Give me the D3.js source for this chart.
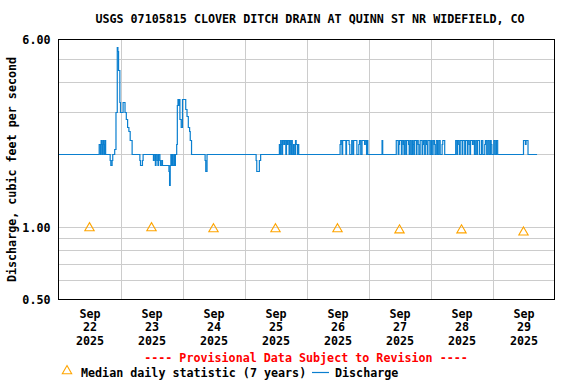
<!DOCTYPE html>
<html>
<head>
<meta charset="utf-8">
<script src="https://cdn.jsdelivr.net/npm/d3@7"></script>
<style>
	body { margin: 0; background: #fff; }
	svg text { font-family: "DejaVu Sans Mono", "Liberation Mono", monospace; font-weight: bold; font-size: 11.7px; fill: #000; }
</style>
</head>
<body>
<svg id="chart" width="576" height="384"></svg>
<script>
var title = "USGS 07105815 CLOVER DITCH DRAIN AT QUINN ST NR WIDEFIELD, CO";
var yTitle = "Discharge, cubic feet per second";
var dayLabels = ["22", "23", "24", "25", "26", "27", "28", "29"];
var yLabelValues = [0.5, 1, 6];
var yGridValues = [0.6, 0.7, 0.8, 0.9, 1, 2, 3, 4, 5];

// median daily statistic, one per day (plotted at noon)
var medianValues = [0.99, 0.99, 0.98, 0.98, 0.98, 0.97, 0.97, 0.95];

// discharge as [hours since Sep 22 00:00, cfs], value holds until next entry
var discharge = [
	[0, 2.0],
	[15.75, 2.2], [16.25, 2.0], [16.5, 2.3], [16.75, 2.2], [17.0, 2.0], [17.25, 2.3], [17.5, 2.2], [17.75, 2.0], [18.0, 2.3], [18.25, 2.0],
	[20.0, 1.9], [20.25, 1.8], [20.75, 1.9], [21.0, 2.0],
	[21.75, 2.1], [22.25, 3.0], [22.75, 5.6], [23.0, 5.4], [23.25, 4.5], [23.75, 3.3], [24.0, 3.0],
	[25.0, 3.3], [25.75, 3.0], [26.25, 2.8], [26.75, 2.6], [27.25, 2.5], [27.75, 2.3], [28.5, 2.0],
	[31.5, 1.9], [31.75, 1.8], [32.5, 1.9], [32.75, 2.0],
	[36.75, 1.9], [37.0, 2.0], [37.5, 1.8], [37.75, 2.0], [38.25, 1.9], [38.5, 1.8], [38.75, 2.0],
	[39.25, 1.9], [39.5, 1.8], [40.0, 1.9], [40.25, 1.8], [42.75, 1.7], [43.0, 1.5], [43.25, 1.8], [43.5, 2.0], [43.75, 1.8],
	[44.0, 2.0], [44.25, 1.8], [44.75, 2.0], [45.0, 1.8], [45.25, 2.0], [45.75, 2.2],
	[46.0, 3.2], [46.25, 3.4], [46.5, 3.2], [46.75, 3.4], [47.0, 2.8], [47.5, 2.6], [48.0, 3.4],
	[49.25, 3.1], [49.75, 2.9], [50.25, 2.6], [50.75, 2.5], [51.0, 2.3], [51.5, 2.0],
	[56.75, 1.9], [57.0, 1.7], [57.5, 2.0],
	[76.5, 1.9], [76.75, 1.7], [77.75, 1.9], [78.25, 2.0],
	[85.5, 2.2], [85.75, 2.0], [86.0, 2.3], [86.25, 2.2], [86.5, 2.0], [86.75, 2.3], [87.25, 2.2], [87.5, 2.3], [88.0, 2.0],
	[88.25, 2.3], [88.5, 2.2], [88.75, 2.3], [89.25, 2.0], [89.5, 2.3], [89.75, 2.2], [90.0, 2.0], [90.25, 2.3], [90.5, 2.0],
	[91.0, 2.2], [91.25, 2.0], [91.75, 2.3], [92.0, 2.2], [92.5, 2.0], [92.75, 2.2], [93.0, 2.0],
	[109.0, 2.2], [109.25, 2.3], [109.75, 2.0], [110.0, 2.3], [111.25, 2.0], [111.5, 2.3], [112.5, 2.2], [112.75, 2.0],
	[113.5, 2.3], [114.0, 2.0], [114.25, 2.3], [115.5, 2.0], [116.25, 2.2], [116.5, 2.3], [117.0, 2.0], [117.5, 2.3],
	[118.5, 2.2], [118.75, 2.3], [119.25, 2.0], [119.5, 2.3], [119.75, 2.0],
	[125.25, 2.3], [125.5, 2.0],
	[130.75, 2.3], [131.5, 2.0], [131.75, 2.2], [132.0, 2.3], [132.75, 2.0], [133.0, 2.3], [133.5, 2.2], [133.75, 2.0],
	[134.0, 2.3], [134.5, 2.0], [134.75, 2.3], [135.5, 2.2], [135.75, 2.0], [136.0, 2.3], [136.5, 2.0], [137.0, 2.3],
	[137.25, 2.2], [137.5, 2.0], [137.75, 2.3], [138.5, 2.0], [138.75, 2.3], [139.25, 2.2], [139.5, 2.0], [140.0, 2.3],
	[140.75, 2.0], [141.0, 2.2], [141.25, 2.3], [141.75, 2.0], [142.0, 2.3], [142.5, 2.2], [142.75, 2.0], [143.0, 2.3],
	[143.75, 2.0], [144.25, 2.3], [144.5, 2.0], [145.0, 2.3], [145.5, 2.2], [145.75, 2.0], [146.25, 2.3], [146.75, 2.0],
	[147.25, 2.3], [147.75, 2.0], [148.5, 2.2], [148.75, 2.3], [149.5, 2.0],
	[153.75, 2.3], [154.25, 2.0], [154.5, 2.3], [155.0, 2.2], [155.25, 2.0], [155.5, 2.3], [156.25, 2.0], [156.5, 2.3],
	[157.25, 2.0], [157.5, 2.3], [158.25, 2.0], [158.5, 2.3], [159.0, 2.2], [159.25, 2.0], [159.5, 2.3], [160.25, 2.2],
	[160.5, 2.3], [161.0, 2.0], [161.5, 2.3], [162.0, 2.0], [162.25, 2.3], [163.0, 2.0], [163.75, 2.3], [164.25, 2.0],
	[165.0, 2.2], [165.25, 2.3], [165.75, 2.0], [166.25, 2.3], [166.75, 2.0], [167.25, 2.3], [167.5, 2.2], [167.75, 2.0],
	[168.5, 2.3], [169.0, 2.0], [169.5, 2.3], [170.0, 2.0],
	[180.0, 2.3], [180.75, 2.2], [181.0, 2.3], [181.75, 2.0],
	[185.25, 2.0]
];

var start = new Date(2025, 8, 22);
function atHour(h) {
	return new Date(start.getTime() + h * 3600 * 1000);
}

var plot = { left: 58.5, right: 554.5, top: 39.5, bottom: 299.5 };
var svg = d3.select("#chart");

var x = d3.scaleTime()
	.domain([start, atHour(8 * 24)])
	.range([plot.left, plot.right]);
var y = d3.scaleLog()
	.domain([0.5, 6])
	.range([plot.bottom, plot.top]);

// gridlines
var grid = svg.append("g").attr("shape-rendering", "crispEdges");
grid.selectAll("line.v")
	.data(d3.range(1, 8))
	.enter().append("line")
	.attr("x1", function(d) { return Math.round(x(atHour(d * 24))) + 0.5; })
	.attr("x2", function(d) { return Math.round(x(atHour(d * 24))) + 0.5; })
	.attr("y1", plot.top).attr("y2", plot.bottom)
	.attr("stroke", "#cccccc");
grid.selectAll("line.h")
	.data(yGridValues)
	.enter().append("line")
	.attr("x1", plot.left).attr("x2", plot.right)
	.attr("y1", function(d) { return Math.round(y(d)) + 0.5; })
	.attr("y2", function(d) { return Math.round(y(d)) + 0.5; })
	.attr("stroke", "#cccccc");

// discharge step line
var line = d3.line()
	.curve(d3.curveStepAfter)
	.x(function(d) { return x(atHour(d[0])); })
	.y(function(d) { return Math.round(y(d[1])) + 0.5; });
svg.append("path")
	.datum(discharge)
	.attr("d", line)
	.attr("fill", "none")
	.attr("stroke", "#0a7fcf")
	.attr("stroke-width", 1.2);

// median triangles
var tri = d3.symbol().type(d3.symbolTriangle).size(38);
svg.selectAll("path.median")
	.data(medianValues)
	.enter().append("path")
	.attr("d", tri)
	.attr("transform", function(d, i) {
		return "translate(" + x(atHour(i * 24 + 12)) + "," + y(d) + ")";
	})
	.attr("fill", "none")
	.attr("stroke", "#ffa500")
	.attr("stroke-width", 1.1);

// frame
svg.append("rect")
	.attr("x", plot.left).attr("y", plot.top)
	.attr("width", plot.right - plot.left).attr("height", plot.bottom - plot.top)
	.attr("fill", "none").attr("stroke", "#000").attr("stroke-width", 1.3)
	.attr("shape-rendering", "crispEdges");

// y axis labels
var yAxis = d3.axisLeft(y)
	.tickValues(yLabelValues)
	.tickFormat(d3.format(".2f"))
	.tickSize(0)
	.tickPadding(8);
var yg = svg.append("g")
	.attr("transform", "translate(" + plot.left + ",0)")
	.call(yAxis);
yg.select(".domain").remove();
yg.selectAll("text").attr("font-size", null).attr("font-family", null).attr("dy", "0.35em");

// x axis labels, three lines each
var xAxis = d3.axisBottom(x)
	.tickValues(dayLabels.map(function(d, i) { return atHour(i * 24 + 12); }))
	.tickSize(0)
	.tickFormat("");
var xg = svg.append("g")
	.attr("transform", "translate(0," + plot.bottom + ")")
	.call(xAxis);
xg.select(".domain").remove();
xg.selectAll(".tick text").remove();
xg.selectAll(".tick").each(function(d, i) {
	var t = d3.select(this).append("text").attr("text-anchor", "middle");
	["Sep", dayLabels[i], "2025"].forEach(function(s, j) {
		t.append("tspan").attr("x", 0).attr("y", 18 + j * 13.5).text(s);
	});
});

// titles
svg.append("text")
	.attr("x", 310).attr("y", 23)
	.attr("text-anchor", "middle")
	.text(title);
svg.append("text")
	.attr("transform", "translate(16," + ((plot.top + plot.bottom) / 2) + ") rotate(-90)")
	.attr("text-anchor", "middle")
	.text(yTitle);

svg.append("text")
	.attr("x", 306).attr("y", 362)
	.attr("text-anchor", "middle")
	.style("fill", "#ff0000")
	.text("---- Provisional Data Subject to Revision ----");

// legend
var legend = svg.append("g");
legend.append("path")
	.attr("d", tri)
	.attr("transform", "translate(67,371)")
	.attr("fill", "none").attr("stroke", "#ffa500").attr("stroke-width", 1.1);
legend.append("text").attr("x", 81).attr("y", 377).text("Median daily statistic (7 years)");
legend.append("line")
	.attr("x1", 312).attr("x2", 329).attr("y1", 372.5).attr("y2", 372.5)
	.attr("stroke", "#0a7fcf").attr("stroke-width", 1.2);
legend.append("text").attr("x", 335).attr("y", 377).text("Discharge");
</script>
</body>
</html>
